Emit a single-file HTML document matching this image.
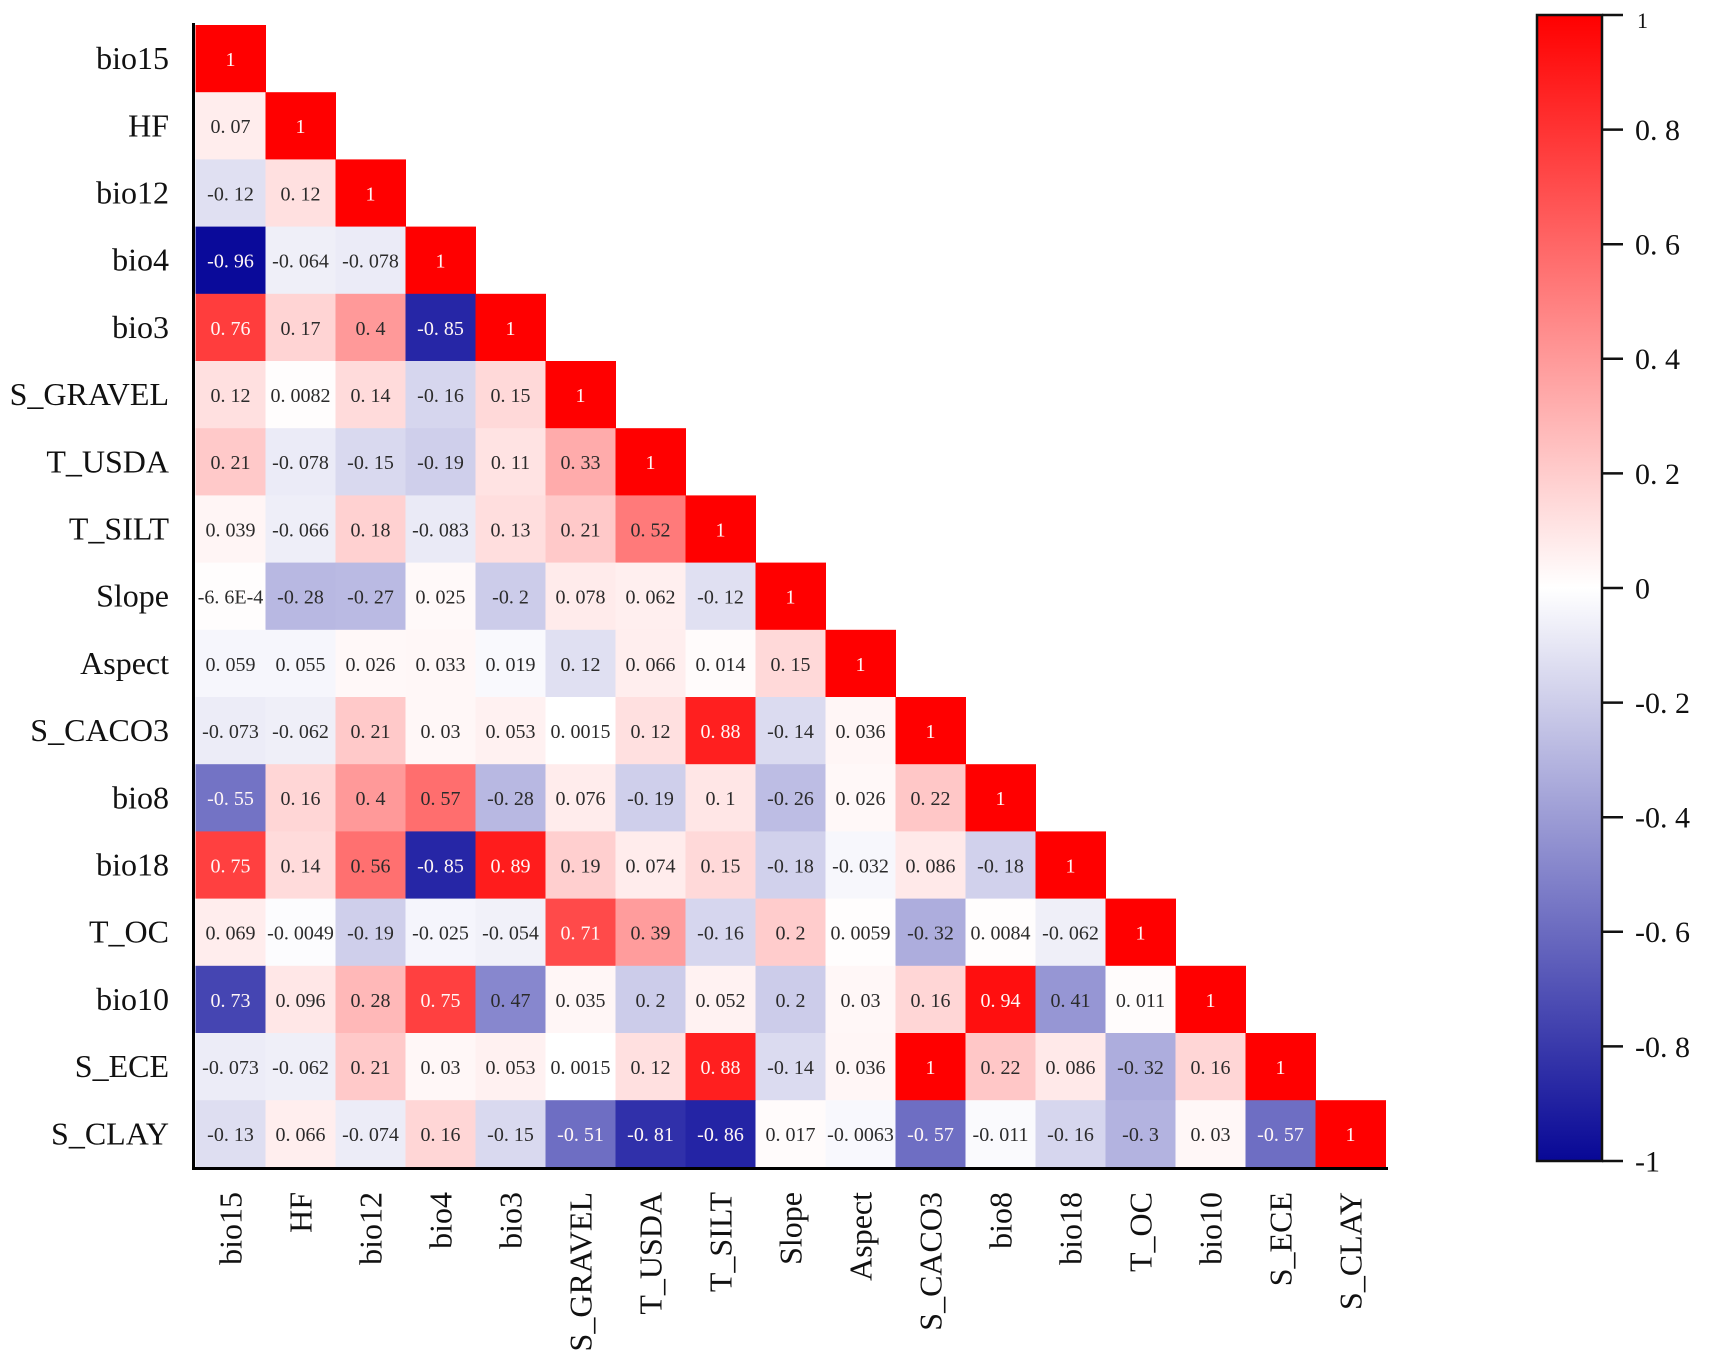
<!DOCTYPE html>
<html><head><meta charset="utf-8"><style>
html,body{margin:0;padding:0;background:#fff;}
svg{display:block;}
.t{font-family:"Liberation Serif","Noto Serif CJK SC",serif;font-size:20px;text-anchor:middle;fill:#2b2b2b;}
.w{fill:#fff6f6;}
.rl{font-family:"Liberation Serif",serif;font-size:32px;text-anchor:end;fill:#111;}
.cl{font-family:"Liberation Serif",serif;font-size:32px;text-anchor:end;fill:#111;}
.cb{font-family:"Liberation Serif",serif;font-size:30px;fill:#111;}
</style></head><body>
<svg width="1717" height="1362" viewBox="0 0 1717 1362" xmlns="http://www.w3.org/2000/svg">
<defs>
<linearGradient id="g" x1="0" y1="0" x2="0" y2="1">
<stop offset="0" stop-color="rgb(255,0,0)"/>
<stop offset="0.5" stop-color="rgb(255,255,255)"/>
<stop offset="1" stop-color="rgb(8,8,150)"/>
</linearGradient>
</defs>

<!-- Row 1 bio15 -->
<g transform="translate(195.5,25)">
<rect x="0" y="0" width="70.5" height="67.7" fill="rgb(255,0,0)"/><text x="35" y="41" class="t w">1</text>
</g>
<!-- Row 2 HF -->
<g transform="translate(195.5,92.2)">
<rect x="0" y="0" width="70.5" height="67.7" fill="rgb(255,237,237)"/><text x="35" y="41" class="t">0. 07</text>
<rect x="70" y="0" width="70.5" height="67.7" fill="rgb(255,0,0)"/><text x="105" y="41" class="t w">1</text>
</g>
<!-- Row 3 bio12 -->
<g transform="translate(195.5,159.4)">
<rect x="0" y="0" width="70.5" height="67.7" fill="rgb(224,224,242)"/><text x="35" y="41" class="t">-0. 12</text>
<rect x="70" y="0" width="70.5" height="67.7" fill="rgb(255,224,224)"/><text x="105" y="41" class="t">0. 12</text>
<rect x="140" y="0" width="70.5" height="67.7" fill="rgb(255,0,0)"/><text x="175" y="41" class="t w">1</text>
</g>
<!-- Row 4 bio4 -->
<g transform="translate(195.5,226.6)">
<rect x="0" y="0" width="70.5" height="67.7" fill="rgb(10,10,154)"/><text x="35" y="41" class="t w">-0. 96</text>
<rect x="70" y="0" width="70.5" height="67.7" fill="rgb(239,239,248)"/><text x="105" y="41" class="t">-0. 064</text>
<rect x="140" y="0" width="70.5" height="67.7" fill="rgb(235,235,247)"/><text x="175" y="41" class="t">-0. 078</text>
<rect x="210" y="0" width="70.5" height="67.7" fill="rgb(255,0,0)"/><text x="245" y="41" class="t w">1</text>
</g>
<!-- Row 5 bio3 -->
<g transform="translate(195.5,293.8)">
<rect x="0" y="0" width="70.5" height="67.7" fill="rgb(255,61,61)"/><text x="35" y="41" class="t w">0. 76</text>
<rect x="70" y="0" width="70.5" height="67.7" fill="rgb(255,212,212)"/><text x="105" y="41" class="t">0. 17</text>
<rect x="140" y="0" width="70.5" height="67.7" fill="rgb(255,153,153)"/><text x="175" y="41" class="t">0. 4</text>
<rect x="210" y="0" width="70.5" height="67.7" fill="rgb(38,38,166)"/><text x="245" y="41" class="t w">-0. 85</text>
<rect x="280" y="0" width="70.5" height="67.7" fill="rgb(255,0,0)"/><text x="315" y="41" class="t w">1</text>
</g>
<!-- Row 6 S_GRAVEL -->
<g transform="translate(195.5,361)">
<rect x="0" y="0" width="70.5" height="67.7" fill="rgb(255,224,224)"/><text x="35" y="41" class="t">0. 12</text>
<rect x="70" y="0" width="70.5" height="67.7" fill="rgb(255,253,253)"/><text x="105" y="41" class="t">0. 0082</text>
<rect x="140" y="0" width="70.5" height="67.7" fill="rgb(255,219,219)"/><text x="175" y="41" class="t">0. 14</text>
<rect x="210" y="0" width="70.5" height="67.7" fill="rgb(214,214,238)"/><text x="245" y="41" class="t">-0. 16</text>
<rect x="280" y="0" width="70.5" height="67.7" fill="rgb(255,217,217)"/><text x="315" y="41" class="t">0. 15</text>
<rect x="350" y="0" width="70.5" height="67.7" fill="rgb(255,0,0)"/><text x="385" y="41" class="t w">1</text>
</g>
<!-- Row 7 T_USDA -->
<g transform="translate(195.5,428.2)">
<rect x="0" y="0" width="70.5" height="67.7" fill="rgb(255,201,201)"/><text x="35" y="41" class="t">0. 21</text>
<rect x="70" y="0" width="70.5" height="67.7" fill="rgb(235,235,247)"/><text x="105" y="41" class="t">-0. 078</text>
<rect x="140" y="0" width="70.5" height="67.7" fill="rgb(217,217,239)"/><text x="175" y="41" class="t">-0. 15</text>
<rect x="210" y="0" width="70.5" height="67.7" fill="rgb(207,207,235)"/><text x="245" y="41" class="t">-0. 19</text>
<rect x="280" y="0" width="70.5" height="67.7" fill="rgb(255,227,227)"/><text x="315" y="41" class="t">0. 11</text>
<rect x="350" y="0" width="70.5" height="67.7" fill="rgb(255,171,171)"/><text x="385" y="41" class="t">0. 33</text>
<rect x="420" y="0" width="70.5" height="67.7" fill="rgb(255,0,0)"/><text x="455" y="41" class="t w">1</text>
</g>
<!-- Row 8 T_SILT -->
<g transform="translate(195.5,495.4)">
<rect x="0" y="0" width="70.5" height="67.7" fill="rgb(255,245,245)"/><text x="35" y="41" class="t">0. 039</text>
<rect x="70" y="0" width="70.5" height="67.7" fill="rgb(238,238,248)"/><text x="105" y="41" class="t">-0. 066</text>
<rect x="140" y="0" width="70.5" height="67.7" fill="rgb(255,209,209)"/><text x="175" y="41" class="t">0. 18</text>
<rect x="210" y="0" width="70.5" height="67.7" fill="rgb(234,234,246)"/><text x="245" y="41" class="t">-0. 083</text>
<rect x="280" y="0" width="70.5" height="67.7" fill="rgb(255,222,222)"/><text x="315" y="41" class="t">0. 13</text>
<rect x="350" y="0" width="70.5" height="67.7" fill="rgb(255,201,201)"/><text x="385" y="41" class="t">0. 21</text>
<rect x="420" y="0" width="70.5" height="67.7" fill="rgb(255,122,122)"/><text x="455" y="41" class="t">0. 52</text>
<rect x="490" y="0" width="70.5" height="67.7" fill="rgb(255,0,0)"/><text x="525" y="41" class="t w">1</text>
</g>
<!-- Row 9 Slope -->
<g transform="translate(195.5,562.6)">
<rect x="0" y="0" width="70.5" height="67.7" fill="rgb(255,253,253)"/><text x="35" y="41" class="t">-6. 6E-4</text>
<rect x="70" y="0" width="70.5" height="67.7" fill="rgb(184,184,226)"/><text x="105" y="41" class="t">-0. 28</text>
<rect x="140" y="0" width="70.5" height="67.7" fill="rgb(186,186,227)"/><text x="175" y="41" class="t">-0. 27</text>
<rect x="210" y="0" width="70.5" height="67.7" fill="rgb(255,249,249)"/><text x="245" y="41" class="t">0. 025</text>
<rect x="280" y="0" width="70.5" height="67.7" fill="rgb(204,204,234)"/><text x="315" y="41" class="t">-0. 2</text>
<rect x="350" y="0" width="70.5" height="67.7" fill="rgb(255,235,235)"/><text x="385" y="41" class="t">0. 078</text>
<rect x="420" y="0" width="70.5" height="67.7" fill="rgb(255,239,239)"/><text x="455" y="41" class="t">0. 062</text>
<rect x="490" y="0" width="70.5" height="67.7" fill="rgb(224,224,242)"/><text x="525" y="41" class="t">-0. 12</text>
<rect x="560" y="0" width="70.5" height="67.7" fill="rgb(255,0,0)"/><text x="595" y="41" class="t w">1</text>
</g>
<!-- Row 10 Aspect -->
<g transform="translate(195.5,629.8)">
<rect x="0" y="0" width="70.5" height="67.7" fill="rgb(246,246,252)"/><text x="35" y="41" class="t">0. 059</text>
<rect x="70" y="0" width="70.5" height="67.7" fill="rgb(246,246,252)"/><text x="105" y="41" class="t">0. 055</text>
<rect x="140" y="0" width="70.5" height="67.7" fill="rgb(255,248,248)"/><text x="175" y="41" class="t">0. 026</text>
<rect x="210" y="0" width="70.5" height="67.7" fill="rgb(255,247,247)"/><text x="245" y="41" class="t">0. 033</text>
<rect x="280" y="0" width="70.5" height="67.7" fill="rgb(249,249,253)"/><text x="315" y="41" class="t">0. 019</text>
<rect x="350" y="0" width="70.5" height="67.7" fill="rgb(224,224,242)"/><text x="385" y="41" class="t">0. 12</text>
<rect x="420" y="0" width="70.5" height="67.7" fill="rgb(255,238,238)"/><text x="455" y="41" class="t">0. 066</text>
<rect x="490" y="0" width="70.5" height="67.7" fill="rgb(255,251,251)"/><text x="525" y="41" class="t">0. 014</text>
<rect x="560" y="0" width="70.5" height="67.7" fill="rgb(255,217,217)"/><text x="595" y="41" class="t">0. 15</text>
<rect x="630" y="0" width="70.5" height="67.7" fill="rgb(255,0,0)"/><text x="665" y="41" class="t w">1</text>
</g>
<!-- Row 11 S_CACO3 -->
<g transform="translate(195.5,697)">
<rect x="0" y="0" width="70.5" height="67.7" fill="rgb(236,236,247)"/><text x="35" y="41" class="t">-0. 073</text>
<rect x="70" y="0" width="70.5" height="67.7" fill="rgb(239,239,248)"/><text x="105" y="41" class="t">-0. 062</text>
<rect x="140" y="0" width="70.5" height="67.7" fill="rgb(255,201,201)"/><text x="175" y="41" class="t">0. 21</text>
<rect x="210" y="0" width="70.5" height="67.7" fill="rgb(255,247,247)"/><text x="245" y="41" class="t">0. 03</text>
<rect x="280" y="0" width="70.5" height="67.7" fill="rgb(255,241,241)"/><text x="315" y="41" class="t">0. 053</text>
<rect x="350" y="0" width="70.5" height="67.7" fill="rgb(255,255,255)"/><text x="385" y="41" class="t">0. 0015</text>
<rect x="420" y="0" width="70.5" height="67.7" fill="rgb(255,224,224)"/><text x="455" y="41" class="t">0. 12</text>
<rect x="490" y="0" width="70.5" height="67.7" fill="rgb(255,31,31)"/><text x="525" y="41" class="t w">0. 88</text>
<rect x="560" y="0" width="70.5" height="67.7" fill="rgb(219,219,240)"/><text x="595" y="41" class="t">-0. 14</text>
<rect x="630" y="0" width="70.5" height="67.7" fill="rgb(255,246,246)"/><text x="665" y="41" class="t">0. 036</text>
<rect x="700" y="0" width="70.5" height="67.7" fill="rgb(255,0,0)"/><text x="735" y="41" class="t w">1</text>
</g>
<!-- Row 12 bio8 -->
<g transform="translate(195.5,764.2)">
<rect x="0" y="0" width="70.5" height="67.7" fill="rgb(115,115,197)"/><text x="35" y="41" class="t w">-0. 55</text>
<rect x="70" y="0" width="70.5" height="67.7" fill="rgb(255,214,214)"/><text x="105" y="41" class="t">0. 16</text>
<rect x="140" y="0" width="70.5" height="67.7" fill="rgb(255,153,153)"/><text x="175" y="41" class="t">0. 4</text>
<rect x="210" y="0" width="70.5" height="67.7" fill="rgb(255,110,110)"/><text x="245" y="41" class="t">0. 57</text>
<rect x="280" y="0" width="70.5" height="67.7" fill="rgb(184,184,226)"/><text x="315" y="41" class="t">-0. 28</text>
<rect x="350" y="0" width="70.5" height="67.7" fill="rgb(255,236,236)"/><text x="385" y="41" class="t">0. 076</text>
<rect x="420" y="0" width="70.5" height="67.7" fill="rgb(207,207,235)"/><text x="455" y="41" class="t">-0. 19</text>
<rect x="490" y="0" width="70.5" height="67.7" fill="rgb(255,230,230)"/><text x="525" y="41" class="t">0. 1</text>
<rect x="560" y="0" width="70.5" height="67.7" fill="rgb(189,189,228)"/><text x="595" y="41" class="t">-0. 26</text>
<rect x="630" y="0" width="70.5" height="67.7" fill="rgb(255,248,248)"/><text x="665" y="41" class="t">0. 026</text>
<rect x="700" y="0" width="70.5" height="67.7" fill="rgb(255,199,199)"/><text x="735" y="41" class="t">0. 22</text>
<rect x="770" y="0" width="70.5" height="67.7" fill="rgb(255,0,0)"/><text x="805" y="41" class="t w">1</text>
</g>
<!-- Row 13 bio18 -->
<g transform="translate(195.5,831.4)">
<rect x="0" y="0" width="70.5" height="67.7" fill="rgb(255,64,64)"/><text x="35" y="41" class="t w">0. 75</text>
<rect x="70" y="0" width="70.5" height="67.7" fill="rgb(255,219,219)"/><text x="105" y="41" class="t">0. 14</text>
<rect x="140" y="0" width="70.5" height="67.7" fill="rgb(255,112,112)"/><text x="175" y="41" class="t">0. 56</text>
<rect x="210" y="0" width="70.5" height="67.7" fill="rgb(38,38,166)"/><text x="245" y="41" class="t w">-0. 85</text>
<rect x="280" y="0" width="70.5" height="67.7" fill="rgb(255,28,28)"/><text x="315" y="41" class="t w">0. 89</text>
<rect x="350" y="0" width="70.5" height="67.7" fill="rgb(255,207,207)"/><text x="385" y="41" class="t">0. 19</text>
<rect x="420" y="0" width="70.5" height="67.7" fill="rgb(255,236,236)"/><text x="455" y="41" class="t">0. 074</text>
<rect x="490" y="0" width="70.5" height="67.7" fill="rgb(255,217,217)"/><text x="525" y="41" class="t">0. 15</text>
<rect x="560" y="0" width="70.5" height="67.7" fill="rgb(209,209,236)"/><text x="595" y="41" class="t">-0. 18</text>
<rect x="630" y="0" width="70.5" height="67.7" fill="rgb(247,247,252)"/><text x="665" y="41" class="t">-0. 032</text>
<rect x="700" y="0" width="70.5" height="67.7" fill="rgb(255,233,233)"/><text x="735" y="41" class="t">0. 086</text>
<rect x="770" y="0" width="70.5" height="67.7" fill="rgb(209,209,236)"/><text x="805" y="41" class="t">-0. 18</text>
<rect x="840" y="0" width="70.5" height="67.7" fill="rgb(255,0,0)"/><text x="875" y="41" class="t w">1</text>
</g>
<!-- Row 14 T_OC -->
<g transform="translate(195.5,898.6)">
<rect x="0" y="0" width="70.5" height="67.7" fill="rgb(255,237,237)"/><text x="35" y="41" class="t">0. 069</text>
<rect x="70" y="0" width="70.5" height="67.7" fill="rgb(252,252,254)"/><text x="105" y="41" class="t">-0. 0049</text>
<rect x="140" y="0" width="70.5" height="67.7" fill="rgb(207,207,235)"/><text x="175" y="41" class="t">-0. 19</text>
<rect x="210" y="0" width="70.5" height="67.7" fill="rgb(245,245,252)"/><text x="245" y="41" class="t">-0. 025</text>
<rect x="280" y="0" width="70.5" height="67.7" fill="rgb(241,241,249)"/><text x="315" y="41" class="t">-0. 054</text>
<rect x="350" y="0" width="70.5" height="67.7" fill="rgb(255,74,74)"/><text x="385" y="41" class="t w">0. 71</text>
<rect x="420" y="0" width="70.5" height="67.7" fill="rgb(255,156,156)"/><text x="455" y="41" class="t">0. 39</text>
<rect x="490" y="0" width="70.5" height="67.7" fill="rgb(214,214,238)"/><text x="525" y="41" class="t">-0. 16</text>
<rect x="560" y="0" width="70.5" height="67.7" fill="rgb(255,204,204)"/><text x="595" y="41" class="t">0. 2</text>
<rect x="630" y="0" width="70.5" height="67.7" fill="rgb(255,253,253)"/><text x="665" y="41" class="t">0. 0059</text>
<rect x="700" y="0" width="70.5" height="67.7" fill="rgb(173,173,221)"/><text x="735" y="41" class="t">-0. 32</text>
<rect x="770" y="0" width="70.5" height="67.7" fill="rgb(255,253,253)"/><text x="805" y="41" class="t">0. 0084</text>
<rect x="840" y="0" width="70.5" height="67.7" fill="rgb(239,239,248)"/><text x="875" y="41" class="t">-0. 062</text>
<rect x="910" y="0" width="70.5" height="67.7" fill="rgb(255,0,0)"/><text x="945" y="41" class="t w">1</text>
</g>
<!-- Row 15 bio10 -->
<g transform="translate(195.5,965.8)">
<rect x="0" y="0" width="70.5" height="67.7" fill="rgb(69,69,178)"/><text x="35" y="41" class="t w">0. 73</text>
<rect x="70" y="0" width="70.5" height="67.7" fill="rgb(255,231,231)"/><text x="105" y="41" class="t">0. 096</text>
<rect x="140" y="0" width="70.5" height="67.7" fill="rgb(255,184,184)"/><text x="175" y="41" class="t">0. 28</text>
<rect x="210" y="0" width="70.5" height="67.7" fill="rgb(255,64,64)"/><text x="245" y="41" class="t w">0. 75</text>
<rect x="280" y="0" width="70.5" height="67.7" fill="rgb(135,135,206)"/><text x="315" y="41" class="t">0. 47</text>
<rect x="350" y="0" width="70.5" height="67.7" fill="rgb(255,246,246)"/><text x="385" y="41" class="t">0. 035</text>
<rect x="420" y="0" width="70.5" height="67.7" fill="rgb(204,204,234)"/><text x="455" y="41" class="t">0. 2</text>
<rect x="490" y="0" width="70.5" height="67.7" fill="rgb(255,242,242)"/><text x="525" y="41" class="t">0. 052</text>
<rect x="560" y="0" width="70.5" height="67.7" fill="rgb(204,204,234)"/><text x="595" y="41" class="t">0. 2</text>
<rect x="630" y="0" width="70.5" height="67.7" fill="rgb(255,247,247)"/><text x="665" y="41" class="t">0. 03</text>
<rect x="700" y="0" width="70.5" height="67.7" fill="rgb(255,214,214)"/><text x="735" y="41" class="t">0. 16</text>
<rect x="770" y="0" width="70.5" height="67.7" fill="rgb(255,15,15)"/><text x="805" y="41" class="t w">0. 94</text>
<rect x="840" y="0" width="70.5" height="67.7" fill="rgb(150,150,212)"/><text x="875" y="41" class="t">0. 41</text>
<rect x="910" y="0" width="70.5" height="67.7" fill="rgb(255,252,252)"/><text x="945" y="41" class="t">0. 011</text>
<rect x="980" y="0" width="70.5" height="67.7" fill="rgb(255,0,0)"/><text x="1015" y="41" class="t w">1</text>
</g>
<!-- Row 16 S_ECE -->
<g transform="translate(195.5,1033)">
<rect x="0" y="0" width="70.5" height="67.7" fill="rgb(236,236,247)"/><text x="35" y="41" class="t">-0. 073</text>
<rect x="70" y="0" width="70.5" height="67.7" fill="rgb(239,239,248)"/><text x="105" y="41" class="t">-0. 062</text>
<rect x="140" y="0" width="70.5" height="67.7" fill="rgb(255,201,201)"/><text x="175" y="41" class="t">0. 21</text>
<rect x="210" y="0" width="70.5" height="67.7" fill="rgb(255,247,247)"/><text x="245" y="41" class="t">0. 03</text>
<rect x="280" y="0" width="70.5" height="67.7" fill="rgb(255,241,241)"/><text x="315" y="41" class="t">0. 053</text>
<rect x="350" y="0" width="70.5" height="67.7" fill="rgb(255,255,255)"/><text x="385" y="41" class="t">0. 0015</text>
<rect x="420" y="0" width="70.5" height="67.7" fill="rgb(255,224,224)"/><text x="455" y="41" class="t">0. 12</text>
<rect x="490" y="0" width="70.5" height="67.7" fill="rgb(255,31,31)"/><text x="525" y="41" class="t w">0. 88</text>
<rect x="560" y="0" width="70.5" height="67.7" fill="rgb(219,219,240)"/><text x="595" y="41" class="t">-0. 14</text>
<rect x="630" y="0" width="70.5" height="67.7" fill="rgb(255,246,246)"/><text x="665" y="41" class="t">0. 036</text>
<rect x="700" y="0" width="70.5" height="67.7" fill="rgb(255,0,0)"/><text x="735" y="41" class="t w">1</text>
<rect x="770" y="0" width="70.5" height="67.7" fill="rgb(255,199,199)"/><text x="805" y="41" class="t">0. 22</text>
<rect x="840" y="0" width="70.5" height="67.7" fill="rgb(255,233,233)"/><text x="875" y="41" class="t">0. 086</text>
<rect x="910" y="0" width="70.5" height="67.7" fill="rgb(173,173,221)"/><text x="945" y="41" class="t">-0. 32</text>
<rect x="980" y="0" width="70.5" height="67.7" fill="rgb(255,214,214)"/><text x="1015" y="41" class="t">0. 16</text>
<rect x="1050" y="0" width="70.5" height="67.7" fill="rgb(255,0,0)"/><text x="1085" y="41" class="t w">1</text>
</g>
<!-- Row 17 S_CLAY -->
<g transform="translate(195.5,1100.2)">
<rect x="0" y="0" width="70.5" height="67.7" fill="rgb(222,222,241)"/><text x="35" y="41" class="t">-0. 13</text>
<rect x="70" y="0" width="70.5" height="67.7" fill="rgb(255,238,238)"/><text x="105" y="41" class="t">0. 066</text>
<rect x="140" y="0" width="70.5" height="67.7" fill="rgb(236,236,247)"/><text x="175" y="41" class="t">-0. 074</text>
<rect x="210" y="0" width="70.5" height="67.7" fill="rgb(255,214,214)"/><text x="245" y="41" class="t">0. 16</text>
<rect x="280" y="0" width="70.5" height="67.7" fill="rgb(217,217,239)"/><text x="315" y="41" class="t">-0. 15</text>
<rect x="350" y="0" width="70.5" height="67.7" fill="rgb(110,110,195)"/><text x="385" y="41" class="t w">-0. 51</text>
<rect x="420" y="0" width="70.5" height="67.7" fill="rgb(48,48,170)"/><text x="455" y="41" class="t w">-0. 81</text>
<rect x="490" y="0" width="70.5" height="67.7" fill="rgb(36,36,165)"/><text x="525" y="41" class="t w">-0. 86</text>
<rect x="560" y="0" width="70.5" height="67.7" fill="rgb(255,251,251)"/><text x="595" y="41" class="t">0. 017</text>
<rect x="630" y="0" width="70.5" height="67.7" fill="rgb(248,248,253)"/><text x="665" y="41" class="t">-0. 0063</text>
<rect x="700" y="0" width="70.5" height="67.7" fill="rgb(110,110,195)"/><text x="735" y="41" class="t w">-0. 57</text>
<rect x="770" y="0" width="70.5" height="67.7" fill="rgb(250,250,253)"/><text x="805" y="41" class="t">-0. 011</text>
<rect x="840" y="0" width="70.5" height="67.7" fill="rgb(214,214,238)"/><text x="875" y="41" class="t">-0. 16</text>
<rect x="910" y="0" width="70.5" height="67.7" fill="rgb(179,179,224)"/><text x="945" y="41" class="t">-0. 3</text>
<rect x="980" y="0" width="70.5" height="67.7" fill="rgb(255,247,247)"/><text x="1015" y="41" class="t">0. 03</text>
<rect x="1050" y="0" width="70.5" height="67.7" fill="rgb(110,110,195)"/><text x="1085" y="41" class="t w">-0. 57</text>
<rect x="1120" y="0" width="70.5" height="67.7" fill="rgb(255,0,0)"/><text x="1155" y="41" class="t w">1</text>
</g>

<!-- Axes -->
<line x1="193.5" y1="23" x2="193.5" y2="1170" stroke="#000" stroke-width="3"/>
<line x1="192" y1="1168.5" x2="1388" y2="1168.5" stroke="#000" stroke-width="3"/>

<!-- Row labels -->
<text x="169" y="69.1" class="rl">bio15</text>
<text x="169" y="136.3" class="rl">HF</text>
<text x="169" y="203.5" class="rl">bio12</text>
<text x="169" y="270.7" class="rl">bio4</text>
<text x="169" y="337.9" class="rl">bio3</text>
<text x="169" y="405.1" class="rl">S_GRAVEL</text>
<text x="169" y="472.3" class="rl">T_USDA</text>
<text x="169" y="539.5" class="rl">T_SILT</text>
<text x="169" y="606.7" class="rl">Slope</text>
<text x="169" y="673.9" class="rl">Aspect</text>
<text x="169" y="741.1" class="rl">S_CACO3</text>
<text x="169" y="808.3" class="rl">bio8</text>
<text x="169" y="875.5" class="rl">bio18</text>
<text x="169" y="942.7" class="rl">T_OC</text>
<text x="169" y="1009.9" class="rl">bio10</text>
<text x="169" y="1077.1" class="rl">S_ECE</text>
<text x="169" y="1144.3" class="rl">S_CLAY</text>

<!-- Column labels -->
<text transform="translate(241.5,1192) rotate(-90)" class="cl">bio15</text>
<text transform="translate(311.5,1192) rotate(-90)" class="cl">HF</text>
<text transform="translate(381.5,1192) rotate(-90)" class="cl">bio12</text>
<text transform="translate(451.5,1192) rotate(-90)" class="cl">bio4</text>
<text transform="translate(521.5,1192) rotate(-90)" class="cl">bio3</text>
<text transform="translate(591.5,1192) rotate(-90)" class="cl">S_GRAVEL</text>
<text transform="translate(661.5,1192) rotate(-90)" class="cl">T_USDA</text>
<text transform="translate(731.5,1192) rotate(-90)" class="cl">T_SILT</text>
<text transform="translate(801.5,1192) rotate(-90)" class="cl">Slope</text>
<text transform="translate(871.5,1192) rotate(-90)" class="cl">Aspect</text>
<text transform="translate(941.5,1192) rotate(-90)" class="cl">S_CACO3</text>
<text transform="translate(1011.5,1192) rotate(-90)" class="cl">bio8</text>
<text transform="translate(1081.5,1192) rotate(-90)" class="cl">bio18</text>
<text transform="translate(1151.5,1192) rotate(-90)" class="cl">T_OC</text>
<text transform="translate(1221.5,1192) rotate(-90)" class="cl">bio10</text>
<text transform="translate(1291.5,1192) rotate(-90)" class="cl">S_ECE</text>
<text transform="translate(1361.5,1192) rotate(-90)" class="cl">S_CLAY</text>

<!-- Colorbar -->
<rect x="1537" y="15" width="65" height="1146" fill="url(#g)" stroke="#111" stroke-width="2.5"/>
<g stroke="#111" stroke-width="2.5">
<line x1="1602" y1="15" x2="1623" y2="15"/>
<line x1="1602" y1="129.6" x2="1623" y2="129.6"/>
<line x1="1602" y1="244.2" x2="1623" y2="244.2"/>
<line x1="1602" y1="358.8" x2="1623" y2="358.8"/>
<line x1="1602" y1="473.4" x2="1623" y2="473.4"/>
<line x1="1602" y1="588" x2="1623" y2="588"/>
<line x1="1602" y1="702.6" x2="1623" y2="702.6"/>
<line x1="1602" y1="817.2" x2="1623" y2="817.2"/>
<line x1="1602" y1="931.8" x2="1623" y2="931.8"/>
<line x1="1602" y1="1046.4" x2="1623" y2="1046.4"/>
<line x1="1602" y1="1161" x2="1623" y2="1161"/>
</g>
<text x="1637" y="28" class="cb" style="font-size:22px">1</text>
<text x="1635" y="140" class="cb">0. 8</text>
<text x="1635" y="254.6" class="cb">0. 6</text>
<text x="1635" y="369.2" class="cb">0. 4</text>
<text x="1635" y="483.8" class="cb">0. 2</text>
<text x="1635" y="598.4" class="cb">0</text>
<text x="1635" y="713" class="cb">-0. 2</text>
<text x="1635" y="827.6" class="cb">-0. 4</text>
<text x="1635" y="942.2" class="cb">-0. 6</text>
<text x="1635" y="1056.8" class="cb">-0. 8</text>
<text x="1635" y="1171.4" class="cb">-1</text>
</svg>
</body></html>
